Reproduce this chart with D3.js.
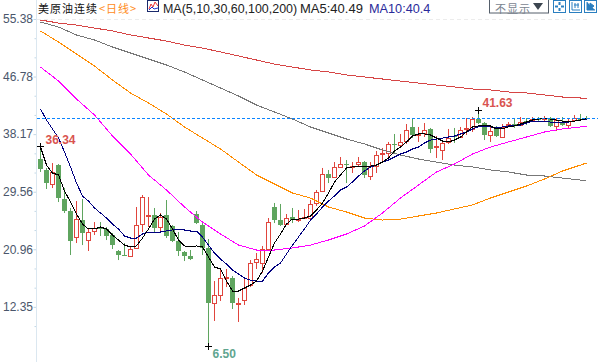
<!DOCTYPE html>
<html>
<head>
<meta charset="utf-8">
<script src="https://cdn.jsdelivr.net/npm/d3@7"></script>
<style>
  html, body { margin: 0; padding: 0; background: #fff; overflow: hidden; }
  text { font-family: "Liberation Sans", Arial, sans-serif; }
  .cjk { font-family: "Noto Sans CJK SC", sans-serif; letter-spacing: 1px; }
</style>
</head>
<body>
<svg id="chart" width="599" height="362"></svg>
<script>
// daily candles
const opens = [34.45,32.81,30.71,33.55,28.47,26.68,22.79,25.33,22.34,23.69,24.14,23.99,23.09,20.70,20.10,19.95,21.15,24.73,25.93,26.08,24.29,26.08,24.44,22.19,20.55,19.95,26.23,24.58,21.15,12.93,14.12,16.66,16.66,12.78,13.38,15.61,19.05,18.91,21.00,27.28,25.33,24.73,25.78,25.33,25.63,25.63,27.88,29.67,32.21,31.76,33.26,33.70,33.26,33.70,34.00,31.91,33.40,35.20,35.35,36.70,36.55,37.14,39.24,38.04,38.34,38.94,36.25,35.80,37.00,37.89,37.74,38.94,38.94,40.43,39.83,38.04,39.09,37.74,39.53,39.68,39.53,40.13,40.28,40.43,40.43,40.58,39.39,39.98,39.53,40.28,40.43,40.58];
const closes = [32.96,30.86,32.51,28.62,26.68,22.19,25.48,23.39,23.54,24.14,23.99,22.94,21.59,20.10,19.95,21.00,24.58,28.77,26.08,24.14,25.78,22.94,22.19,20.70,19.95,19.50,24.88,21.15,12.93,14.12,16.66,16.81,12.93,12.93,15.17,18.91,19.50,21.00,25.03,25.33,24.58,25.63,25.33,25.48,25.78,27.73,29.52,32.21,31.61,33.26,33.70,33.55,33.40,34.00,32.06,33.40,35.05,35.35,36.70,36.55,37.00,38.79,38.04,38.19,38.79,35.95,36.40,36.85,37.59,37.74,38.79,39.09,40.43,39.83,38.04,38.64,37.89,39.24,39.68,39.53,39.98,39.98,40.43,40.28,40.58,39.39,40.28,39.53,40.13,40.58,40.28,40.43];
const highs = [36.34,33.11,33.85,33.70,30.11,27.13,28.17,28.47,24.14,25.03,25.03,24.29,23.39,20.85,21.89,21.30,27.28,29.07,28.77,27.13,26.38,28.32,24.58,23.54,20.70,20.85,26.68,24.88,22.49,16.21,18.16,18.01,16.96,13.68,16.66,19.35,20.40,21.45,25.63,27.88,27.73,26.23,27.13,26.83,26.98,28.32,29.82,33.11,32.81,34.00,34.75,34.30,34.00,34.75,34.15,34.00,35.65,36.10,37.00,38.19,38.19,39.68,40.43,39.24,39.83,39.09,37.89,37.29,38.94,39.09,39.24,40.58,40.73,41.63,39.98,39.53,39.39,39.68,39.98,40.58,40.73,40.58,40.73,40.73,40.88,40.73,40.58,40.73,40.58,41.03,41.18,40.88];
const lows = [32.51,29.97,30.11,28.02,26.38,20.10,21.89,21.59,20.70,23.09,22.94,22.34,21.00,19.35,19.95,19.80,21.00,23.54,24.29,23.54,23.69,22.64,22.04,19.95,19.20,19.35,24.73,20.10,6.50,10.24,13.23,15.31,12.03,10.09,12.63,15.31,18.01,17.41,20.85,24.88,24.44,24.58,24.88,25.03,25.48,25.48,27.43,29.52,30.86,31.61,33.26,30.86,32.36,33.26,31.61,31.31,32.36,34.00,34.75,35.35,36.10,36.70,37.59,37.00,37.74,35.35,34.60,34.30,36.70,36.85,37.59,38.04,38.49,39.68,37.29,37.00,37.74,37.74,39.24,39.09,39.39,39.53,39.98,39.98,40.13,39.24,38.64,39.39,39.09,40.13,40.13,40.43];

// moving averages
const ma5 = [36.24,33.55,32.36,32.06,29.67,28.02,26.23,24.73,23.99,23.99,24.29,23.99,23.09,22.34,21.59,21.30,21.45,22.64,23.99,25.48,26.08,25.48,23.99,22.34,21.45,21.30,21.45,21.30,19.80,18.31,18.01,16.21,14.72,14.72,15.17,15.61,16.21,17.71,19.80,21.89,23.24,24.73,25.48,25.48,25.63,25.93,26.83,27.88,29.37,31.01,32.06,33.11,33.26,33.26,33.26,33.40,33.55,34.00,34.60,35.65,36.24,37.00,37.89,38.19,38.19,38.04,37.59,37.14,37.00,37.29,37.74,38.49,39.24,39.39,39.39,39.39,38.94,38.94,39.24,39.39,39.68,39.98,40.28,40.43,40.58,40.43,40.28,40.13,40.13,40.13,40.28,40.49];
const ma10 = [41.93,40.28,38.94,37.59,35.50,33.26,30.86,28.92,28.17,27.13,26.38,25.63,24.73,23.99,22.94,22.64,22.64,23.24,23.54,23.54,23.54,23.69,23.84,23.84,23.84,23.69,23.69,22.79,21.59,20.40,19.50,18.76,17.86,17.26,16.66,16.36,16.21,16.21,17.41,18.31,18.91,20.25,21.59,22.79,23.99,25.33,26.23,27.28,28.17,28.92,29.82,30.26,31.01,31.91,32.66,33.26,33.55,34.00,34.30,34.75,35.20,35.50,35.95,36.24,36.85,37.29,37.44,37.59,37.74,37.89,38.19,38.49,38.94,39.24,39.24,39.24,39.09,39.24,39.39,39.39,39.53,39.83,40.13,40.13,40.13,39.98,39.98,39.98,39.98,40.13,40.28,40.40];

// the slow averages are read every few candles
const slowIdx = [0,3,6,9,12,15,18,21,24,27,30,33,36,39,42,45,48,51,54,57,60,63,66,69,72,75,78,81,84,87,90,91];
const ma30 = [48.20,46.11,43.42,41.03,37.89,35.20,32.06,29.82,27.28,25.03,23.24,21.59,20.85,20.85,21.15,21.59,22.34,23.24,24.44,26.38,28.62,30.56,32.51,33.70,35.20,36.24,37.00,37.74,38.49,38.94,39.24,39.24];
const ma60 = [53.59,51.94,50.15,48.35,46.26,44.32,42.82,41.18,39.24,37.59,35.95,34.00,32.06,30.71,29.37,28.62,27.28,26.53,25.63,25.33,25.48,25.93,26.38,26.98,27.58,28.62,29.52,30.41,31.46,32.66,33.55,33.85];
const ma100 = [54.93,54.18,52.99,52.24,51.19,50.30,49.40,48.50,47.46,46.26,45.06,43.87,42.52,41.48,40.43,39.24,38.34,37.44,36.70,35.80,35.05,34.45,34.00,33.55,33.26,32.81,32.51,32.06,31.91,31.61,31.31,31.16];
const ma200 = [55.23,54.78,54.48,54.03,53.59,52.99,52.54,52.09,51.49,51.04,50.45,49.85,49.25,48.65,48.20,47.76,47.46,47.01,46.71,46.41,46.11,45.81,45.51,45.22,44.92,44.77,44.47,44.32,44.02,43.72,43.57,43.57];

const yTicks = [55.38,46.78,38.17,29.56,20.96,12.35];
const yMinorTicks = [52.51,49.65,43.91,41.04,35.30,32.43,26.70,23.83,18.09,15.22,9.48];
const lastPrice = 40.49;

const RED = "#e0453d", GREEN = "#5fa55f";

const svg = d3.select("#chart");
const x = d3.scaleLinear().domain([0, 91]).range([40.5, 586.5]);
const y = d3.scaleLinear().domain([6.5, 55.38]).range([346, 19]);
const crisp = v => Math.floor(v) + 0.5;

// left axis
const axisG = svg.append("g").attr("transform", "translate(36.5,0)");
axisG.call(d3.axisLeft(y).tickValues(yTicks).tickSize(3).tickFormat(d3.format(".2f")));
axisG.select(".domain").remove();
axisG.selectAll("line").attr("stroke", "#c3d8e6");
axisG.selectAll("text")
  .attr("x", -3.5)
  .attr("fill", "#4a566b")
  .style("font-size", "12px")
  .style("font-family", '"Liberation Sans", Arial, sans-serif');
const minorG = svg.append("g").attr("transform", "translate(36.5,0)");
minorG.call(d3.axisLeft(y).tickValues(yMinorTicks).tickSize(2).tickFormat(""));
minorG.select(".domain").remove();
minorG.selectAll("line").attr("stroke", "#c3d8e6");
svg.append("line")
  .attr("x1", 36.5).attr("x2", 36.5).attr("y1", 0).attr("y2", 362)
  .attr("stroke", "#dbe7f0");

// top grid line
svg.append("line")
  .attr("x1", 37).attr("x2", 590)
  .attr("y1", crisp(y(55.38))).attr("y2", crisp(y(55.38)))
  .attr("stroke", "#ececec").attr("stroke-dasharray", "4,3");

// candles
const candles = svg.append("g").selectAll("g").data(opens).enter().append("g");
const isUp = i => closes[i] > opens[i];
candles.append("line")
  .attr("x1", (d, i) => x(i)).attr("x2", (d, i) => x(i))
  .attr("y1", (d, i) => y(highs[i])).attr("y2", (d, i) => y(lows[i]))
  .attr("stroke", (d, i) => isUp(i) ? RED : GREEN)
  .attr("stroke-width", 1);
candles.append("rect")
  .attr("x", (d, i) => isUp(i) ? x(i) - 2 : x(i) - 2.5)
  .attr("width", (d, i) => isUp(i) ? 4 : 5)
  .attr("y", (d, i) => {
    const t = Math.round(y(Math.max(opens[i], closes[i])));
    return isUp(i) ? t + 0.5 : t;
  })
  .attr("height", (d, i) => {
    const t = Math.round(y(Math.max(opens[i], closes[i])));
    const b = Math.round(y(Math.min(opens[i], closes[i])));
    return Math.max(b - t, 1);
  })
  .attr("fill", (d, i) => isUp(i) ? "#fff" : GREEN)
  .attr("stroke", (d, i) => isUp(i) ? RED : "none");

// moving average lines
const line = d3.line().x(d => x(d[0])).y(d => y(d[1]));
const everyCandle = vals => vals.map((v, i) => [i, v]);
const slow = vals => vals.map((v, i) => [slowIdx[i], v]);
const maLines = [
  [slow(ma200), "#d64545"],
  [slow(ma100), "#777777"],
  [slow(ma60), "#ff8c00"],
  [slow(ma30), "#ff00ff"],
  [everyCandle(ma10), "#00007f"],
  [everyCandle(ma5), "#000000"]
];
svg.append("g").selectAll("path").data(maLines).enter().append("path")
  .attr("d", d => line(d[0]))
  .attr("fill", "none")
  .attr("stroke", d => d[1])
  .attr("stroke-width", 1)
  .attr("shape-rendering", "crispEdges");

// last price line
svg.append("line")
  .attr("x1", 37).attr("x2", 598)
  .attr("y1", crisp(y(lastPrice))).attr("y2", crisp(y(lastPrice)))
  .attr("stroke", "#0a84ff").attr("stroke-dasharray", "3,2")
  .attr("shape-rendering", "crispEdges");

// high / low markers
const extremes = [
  { i: 0, v: 36.34, dx: 5, dy: -3, color: "#d9534f" },
  { i: 73, v: 41.63, dx: 4, dy: -4, color: "#d9534f" },
  { i: 28, v: 6.50, dx: 4, dy: 11, color: "#5fa58f" }
];
extremes.forEach(e => {
  const cx = x(e.i), cy = crisp(y(e.v));
  svg.append("path")
    .attr("d", `M${cx - 3.5},${cy}H${cx + 3.5}M${cx},${cy - 3.5}V${cy + 3.5}`)
    .attr("stroke", "#000").attr("fill", "none");
  svg.append("text")
    .attr("x", cx + e.dx).attr("y", cy + e.dy)
    .attr("fill", e.color)
    .attr("font-size", 12).attr("font-weight", "bold")
    .text(e.v.toFixed(2));
});

// header
svg.append("text").attr("class", "cjk").attr("x", 38).attr("y", 13)
  .attr("font-size", 11).attr("fill", "#111").text("美原油连续");
svg.append("text").attr("class", "cjk").attr("x", 99).attr("y", 13)
  .attr("font-size", 11).attr("fill", "#ff8c1a").text("<日线>");
const icon = svg.append("g");
icon.append("rect").attr("x", 147.5).attr("y", 0.5).attr("width", 11).attr("height", 11)
  .attr("fill", "#fff").attr("stroke", "#1a2a6c");
icon.append("path").attr("d", "M149,9L151,4L153,7L155,2L158,6").attr("fill", "none").attr("stroke", "#e33");
icon.append("path").attr("d", "M149,10L152,7L154,9L158,8").attr("fill", "none").attr("stroke", "#23c");
svg.append("text").attr("x", 163).attr("y", 13).attr("font-size", 12.45).attr("fill", "#222")
  .text("MA(5,10,30,60,100,200)");
svg.append("text").attr("x", 300).attr("y", 13).attr("font-size", 13).attr("fill", "#222")
  .text("MA5:40.49");
svg.append("text").attr("x", 369).attr("y", 13).attr("font-size", 12.7).attr("fill", "#2a2a9a")
  .text("MA10:40.4");

// toolbar
svg.append("rect").attr("x", 489.5).attr("y", -1).attr("width", 59).attr("height", 14)
  .attr("fill", "#fff").attr("stroke", "#555f6b");
svg.append("text").attr("class", "cjk").attr("x", 495).attr("y", 13)
  .attr("font-size", 11).attr("fill", "#7a8490").text("不显示");
svg.append("path").attr("d", "M533,3H543L538,10Z").attr("fill", "#3c4650");
[553, 569, 584].forEach((bx, n) => {
  const b = svg.append("g").attr("transform", `translate(${bx},0)`);
  b.append("rect").attr("x", 0.5).attr("y", 0.5).attr("width", 12).attr("height", 12)
    .attr("fill", "#fff").attr("stroke", "#2a7fc0");
  const glyph = n === 0 ? "M6.5,2V5M6.5,8V11M2,6.5H5M8,6.5H11"
    : n === 1 ? "M3,2V10H11M6,3V8M9,3V8M5,5H10"
    : "M3,2V10H11M6,3V9L10,6Z";
  b.append("path").attr("d", glyph).attr("fill", n === 2 ? "#2a7fc0" : "none")
    .attr("stroke", "#2a7fc0").attr("stroke-width", n === 0 ? 2 : 1);
});
</script>
</body>
</html>
